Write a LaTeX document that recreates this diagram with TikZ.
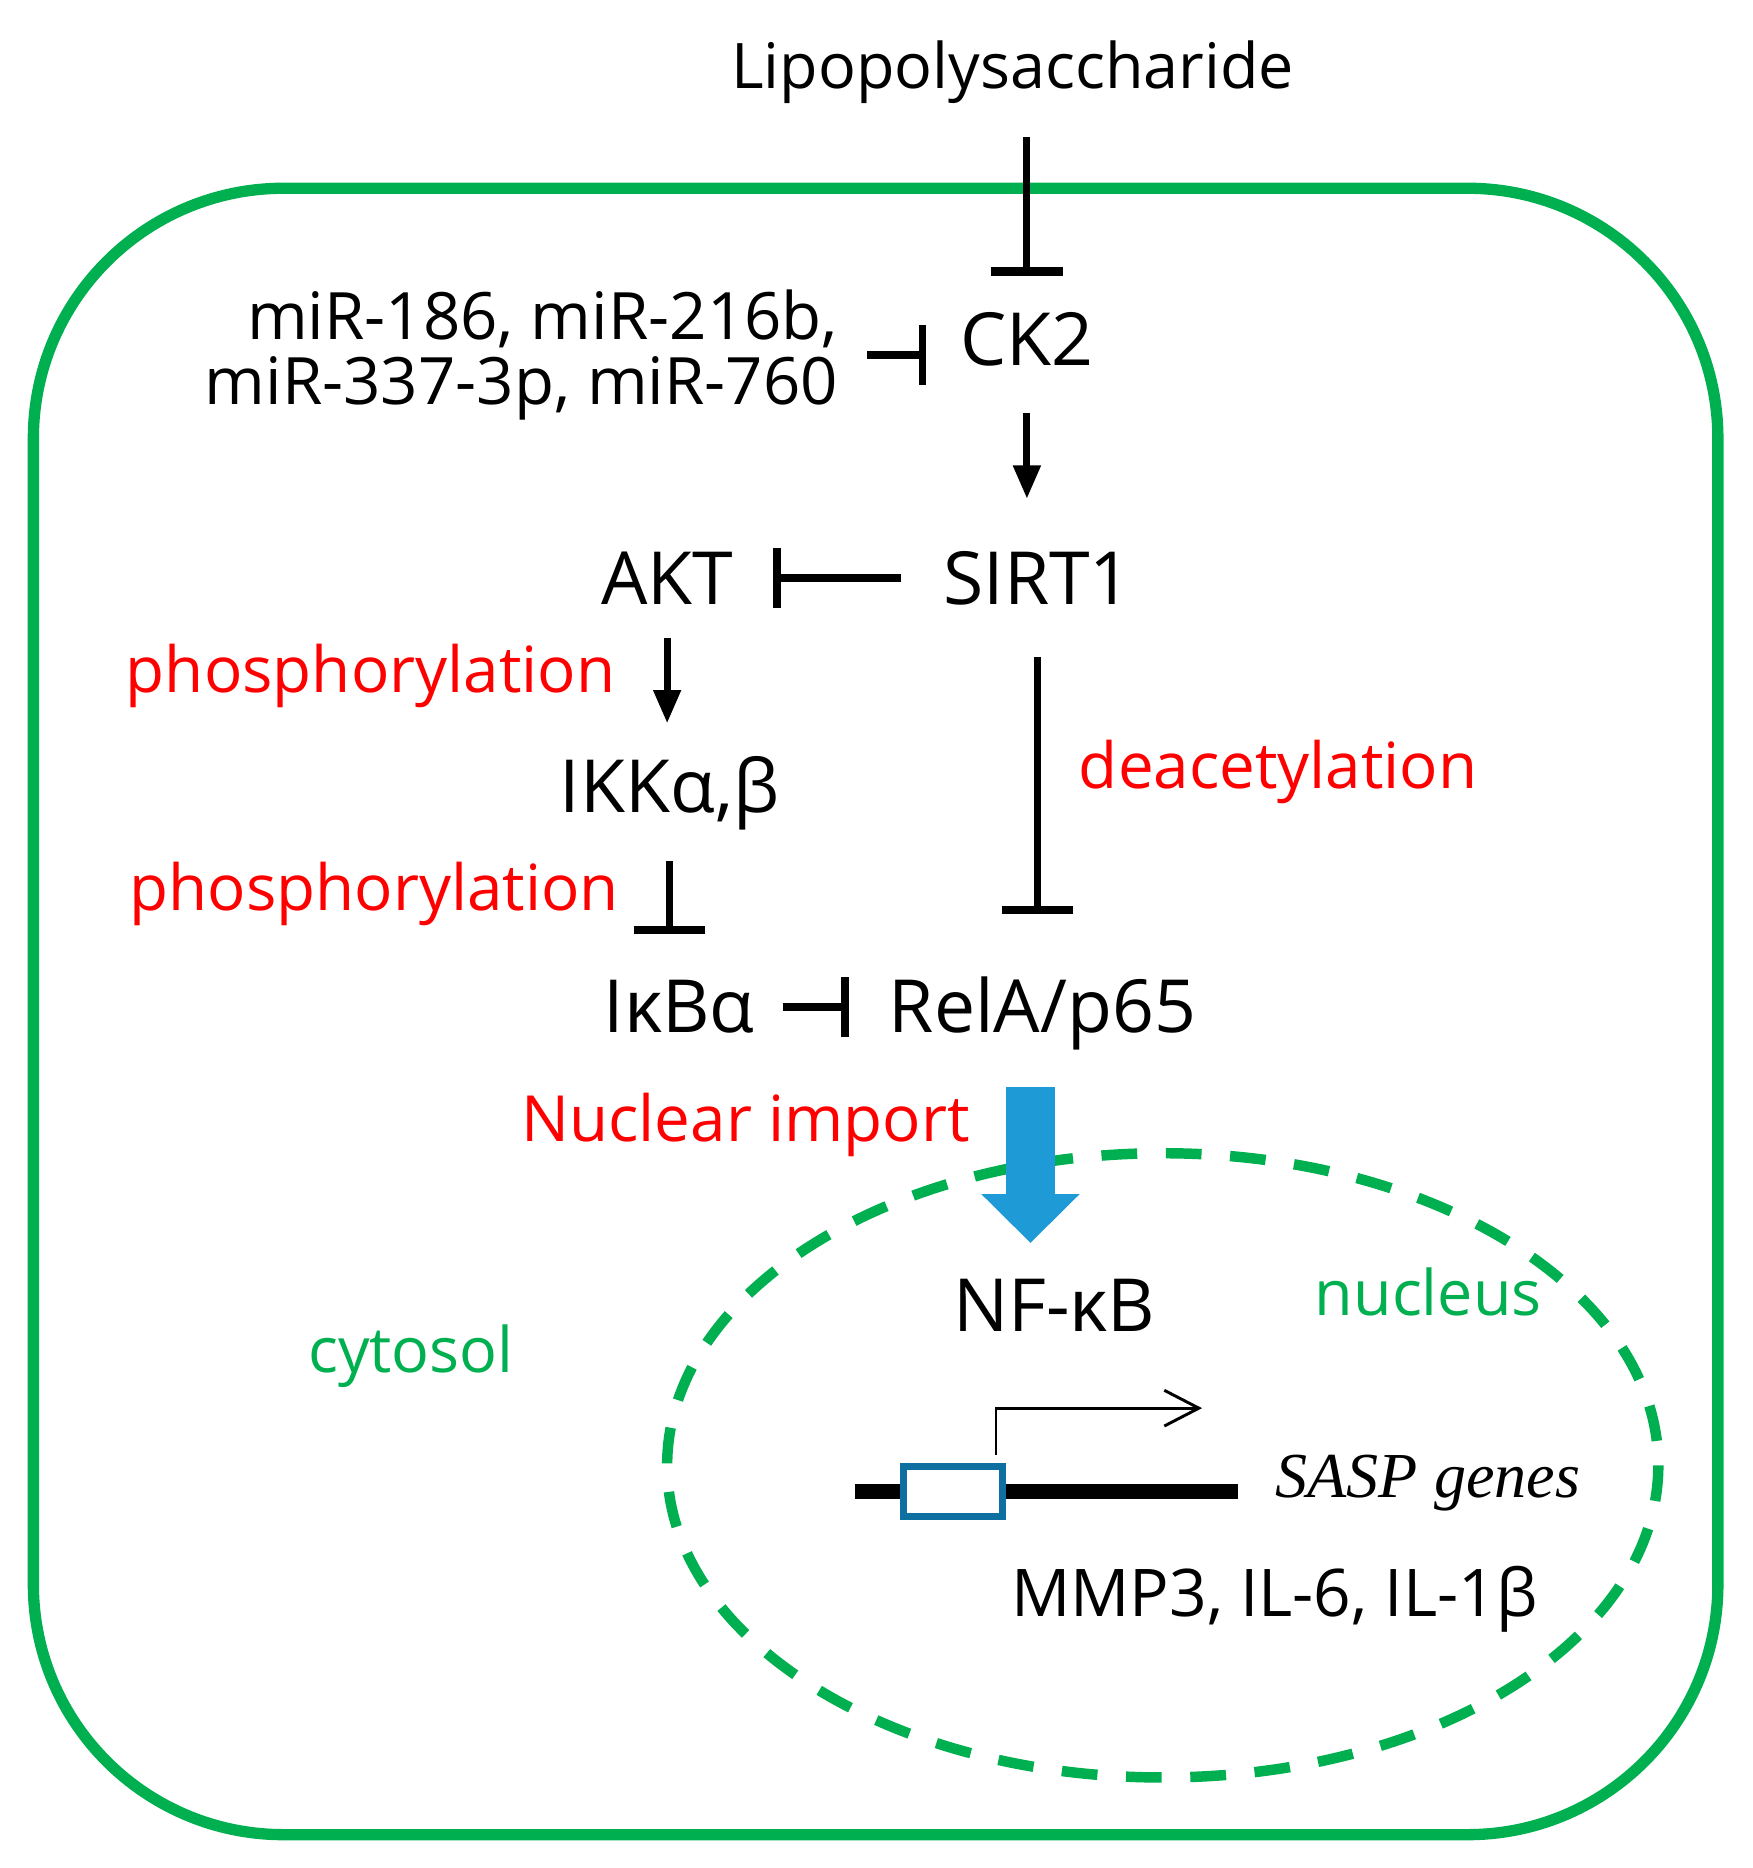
\documentclass[tikz,border=0pt]{standalone}
\usepackage{fontspec}
\setmainfont{Open Sans}
\newfontfamily\genefont{Liberation Serif}
\definecolor{cellgreen}{RGB}{0,176,80}
\definecolor{labelred}{RGB}{255,0,0}
\definecolor{importblue}{RGB}{30,155,215}
\definecolor{promblue}{RGB}{14,112,160}
\usetikzlibrary{arrows.meta}

\tikzset{
  mol/.style={inner sep=0pt, font=\fontsize{17.5}{21}\selectfont},
  proc/.style={inner sep=0pt, text=labelred, font=\fontsize{15.2}{18}\selectfont},
  comp/.style={inner sep=0pt, text=cellgreen, font=\fontsize{15}{18}\selectfont},
  act/.style={line width=1.7pt, -{Triangle[length=0.28cm, width=0.22cm]}},
  vinh/.style={line width=1.7pt, -{Bar[width=0.6cm, line width=2.1pt]}},
  hinh/.style={line width=1.8pt, -{Bar[width=0.5cm, line width=1.8pt]}},
  import/.style={line width=0.41cm, draw=importblue, -{Triangle[length=0.41cm, width=0.8cm]}},
}

\begin{document}
\begin{tikzpicture}[x=0.01cm, y=-0.01cm]
    \useasboundingbox (0,0) rectangle (1471,1568);

    % Cell and nucleus
    \draw[cellgreen, line width=2.7pt, rounded corners=2.1cm] (28,158) rectangle (1442,1540);
    \draw[cellgreen, line width=2.5pt, dash pattern=on 0.3cm off 0.24cm] (976,1230) ellipse [x radius=416, y radius=262];

    % Molecules
    \node[mol, anchor=base, font=\fontsize{15}{18}\selectfont] (lps) at (850,74) {Lipopolysaccharide};
    \node[mol, anchor=base] (ck2) at (862,307) {CK2};
    \node[mol, anchor=east, align=right, font=\fontsize{15.6}{15.6}\selectfont] (mir) at (704,298) {miR-186, miR-216b,\\miR-337-3p, miR-760};
    \node[mol, anchor=base] (sirt1) at (871,507) {SIRT1};
    \node[mol, anchor=base] (akt) at (560,507) {AKT};
    \node[mol, anchor=base] (ikk) at (562,682) {IKKα,β};
    \node[mol, anchor=base] (ikba) at (570,867) {IκBα};
    \node[mol, anchor=base] (rela) at (875,867) {RelA/p65};
    \node[mol, anchor=base] (nfkb) at (885,1118) {NF-κB};

    % Process labels
    \node[proc, anchor=base west] (phos1) at (105,581) {phosphorylation};
    \node[proc, anchor=base west] (phos2) at (108,764) {phosphorylation};
    \node[proc, anchor=base west] (deac) at (905,662) {deacetylation};
    \node[proc, anchor=base west] (imp) at (437,958) {Nuclear import};

    % Compartments
    \node[comp, anchor=base west] (nuc) at (1103,1104) {nucleus};
    \node[comp, anchor=base west] (cyt) at (258,1152) {cytosol};

    % Signalling
    \draw[vinh, shorten <=0.28cm, shorten >=0.3cm] (lps.south -| ck2) -- (ck2.north);
    \draw[hinh, shorten <=0.24cm, shorten >=0.28cm] (mir.east) -- (mir.east -| ck2.west);
    \draw[act, shorten <=0.38cm, shorten >=0.43cm] (ck2.south) -- (ck2.south |- sirt1.north);
    \draw[hinh, shorten <=0.35cm, shorten >=0.33cm] (sirt1.west) -- (sirt1.west -| akt.east);
    \draw[act, shorten <=0.28cm, shorten >=0.27cm] (akt.south) -- (akt.south |- ikk.north);
    \draw[vinh, shorten <=0.43cm, shorten >=0.52cm] (sirt1.south) -- (sirt1.south |- rela.north);
    \draw[vinh, shorten <=0.25cm, shorten >=0.38cm] (ikk.south) -- (ikk.south |- ikba.north);
    \draw[hinh, shorten <=0.23cm, shorten >=0.33cm] (ikba.east) -- (ikba.east -| rela.west);
    \draw[import, shorten <=0.3cm, shorten >=0.3cm] ([xshift=-0.1cm]rela.south) -- ([xshift=-0.1cm]rela.south |- nfkb.north);

    % SASP gene with promoter
    \draw[line width=3.6pt] (718,1252) -- (1039,1252);
    \node[draw=promblue, fill=white, line width=1.7pt, minimum width=0.83cm, minimum height=0.42cm, inner sep=0pt] (prom) at (800,1252) {};
    \coordinate (txend) at (1009,1182);
    \draw[line width=0.7pt, -{Straight Barb[length=0.29cm, width=0.3cm]}] ([xshift=0.36cm, yshift=0.07cm]prom.north) |- (txend);
    \node[anchor=base west, inner sep=0pt, font=\genefont\itshape\fontsize{15.3}{18}\selectfont] (sasp) at (1070,1257) {SASP genes};
    \node[mol, anchor=base west, font=\fontsize{15.7}{18}\selectfont] (mmp) at (848,1357) {MMP3, IL-6, IL-1β};
\end{tikzpicture}
\end{document}
